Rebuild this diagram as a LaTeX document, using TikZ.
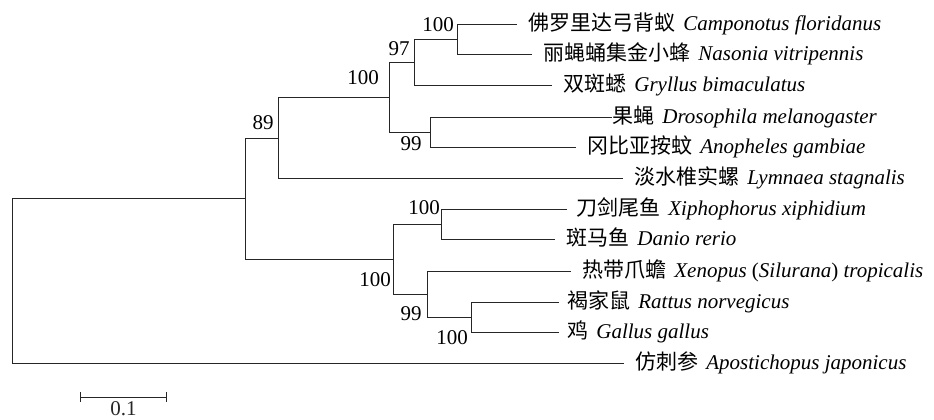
\documentclass[tikz,border=0pt]{standalone}
\usepackage{fontspec}
\setmainfont{Liberation Serif}
\newfontfamily\cjk{Noto Sans CJK SC}
\usetikzlibrary{arrows.meta}

\begin{document}
\begin{tikzpicture}[x=0.5pt, y=-0.5pt, >=latex,
        branch/.style={line width=0.5pt, black!85},
        taxon/.style={anchor=west, inner xsep=5.5pt, inner ysep=0pt,
            text height=0.8em, text depth=0.2em, font=\fontsize{10.5}{12}\selectfont},
        boot/.style={inner sep=0pt, font=\fontsize{10.5}{12}\selectfont}]
        \useasboundingbox (0,0) rectangle (934,419);
        % ==== INTERNAL NODES ====
        \coordinate (root) at (12,280.5);
        \coordinate (nA) at (245,198.5);
        \coordinate (nInv) at (278,138);
        \coordinate (nIns) at (389,97);
        \coordinate (nOrth) at (414,62);
        \coordinate (nHym) at (457,39);
        \coordinate (nDip) at (430,132);
        \coordinate (nVert) at (393,259);
        \coordinate (nFish) at (441,224);
        \coordinate (nTet) at (427,294);
        \coordinate (nAmn) at (471,317);
        % ==== TAXA ====
        \node[taxon] (camp) at (517,24) {{\cjk 佛罗里达弓背蚁}\hspace{4pt}\textit{Camponotus floridanus}};
        \node[taxon] (naso) at (532,54) {{\cjk 丽蝇蛹集金小蜂}\hspace{4pt}\textit{Nasonia vitripennis}};
        \node[taxon] (gryl) at (552,85) {{\cjk 双斑蟋}\hspace{4pt}\textit{Gryllus bimaculatus}};
        \node[taxon, inner xsep=0pt] (dros) at (612,117) {{\cjk 果蝇}\hspace{4pt}\textit{Drosophila melanogaster}};
        \node[taxon] (anop) at (576,147) {{\cjk 冈比亚按蚊}\hspace{4pt}\textit{Anopheles gambiae}};
        \node[taxon] (lymn) at (623,178) {{\cjk 淡水椎实螺}\hspace{4pt}\textit{Lymnaea stagnalis}};
        \node[taxon, inner xsep=4.5pt] (xiph) at (567,209) {{\cjk 刀剑尾鱼}\hspace{4pt}\textit{Xiphophorus xiphidium}};
        \node[taxon] (dani) at (555,239) {{\cjk 斑马鱼}\hspace{4pt}\textit{Danio rerio}};
        \node[taxon] (xeno) at (571,271) {{\cjk 热带爪蟾}\hspace{4pt}\textit{Xenopus} (\textit{Silurana}) \textit{tropicalis}};
        \node[taxon, inner xsep=4pt] (ratt) at (559,302) {{\cjk 褐家鼠}\hspace{4pt}\textit{Rattus norvegicus}};
        \node[taxon, inner xsep=4pt] (gall) at (559,332) {{\cjk 鸡}\hspace{4pt}\textit{Gallus gallus}};
        \node[taxon] (apos) at (624,363) {{\cjk 仿刺参}\hspace{4pt}\textit{Apostichopus japonicus}};
        % ==== BRANCHES ====
        \draw[branch] (root) |- (nA);
        \draw[branch] (root) |- (apos.west);
        \draw[branch] (nA) |- (nInv);
        \draw[branch] (nA) |- (nVert);
        \draw[branch] (nInv) |- (nIns);
        \draw[branch] (nInv) |- (lymn.west);
        \draw[branch] (nIns) |- (nOrth);
        \draw[branch] (nIns) |- (nDip);
        \draw[branch] (nOrth) |- (nHym);
        \draw[branch] (nOrth) |- (gryl.west);
        \draw[branch] (nHym) |- (camp.west);
        \draw[branch] (nHym) |- (naso.west);
        \draw[branch] (nDip) |- (dros.west);
        \draw[branch] (nDip) |- (anop.west);
        \draw[branch] (nVert) |- (nFish);
        \draw[branch] (nVert) |- (nTet);
        \draw[branch] (nFish) |- (xiph.west);
        \draw[branch] (nFish) |- (dani.west);
        \draw[branch] (nTet) |- (xeno.west);
        \draw[branch] (nTet) |- (nAmn);
        \draw[branch] (nAmn) |- (ratt.west);
        \draw[branch] (nAmn) |- (gall.west);
        % ==== BOOTSTRAP VALUES ====
        \node[boot] at (438,25) {100};
        \node[boot] at (399,49) {97};
        \node[boot] at (363,78) {100};
        \node[boot] at (411,144) {99};
        \node[boot] at (263,123) {89};
        \node[boot] at (424,208) {100};
        \node[boot] at (375,280) {100};
        \node[boot] at (411,314) {99};
        \node[boot] at (452,338) {100};
        % ==== SCALE BAR ====
        \coordinate (barL) at (80,397);
        \coordinate (barR) at (167,397);
        \draw[branch, {Bar[width=5pt]}-{Bar[width=5pt]}] (barL) -- (barR)
            node[midway, below=2pt, boot] {0.1};
\end{tikzpicture}
\end{document}
